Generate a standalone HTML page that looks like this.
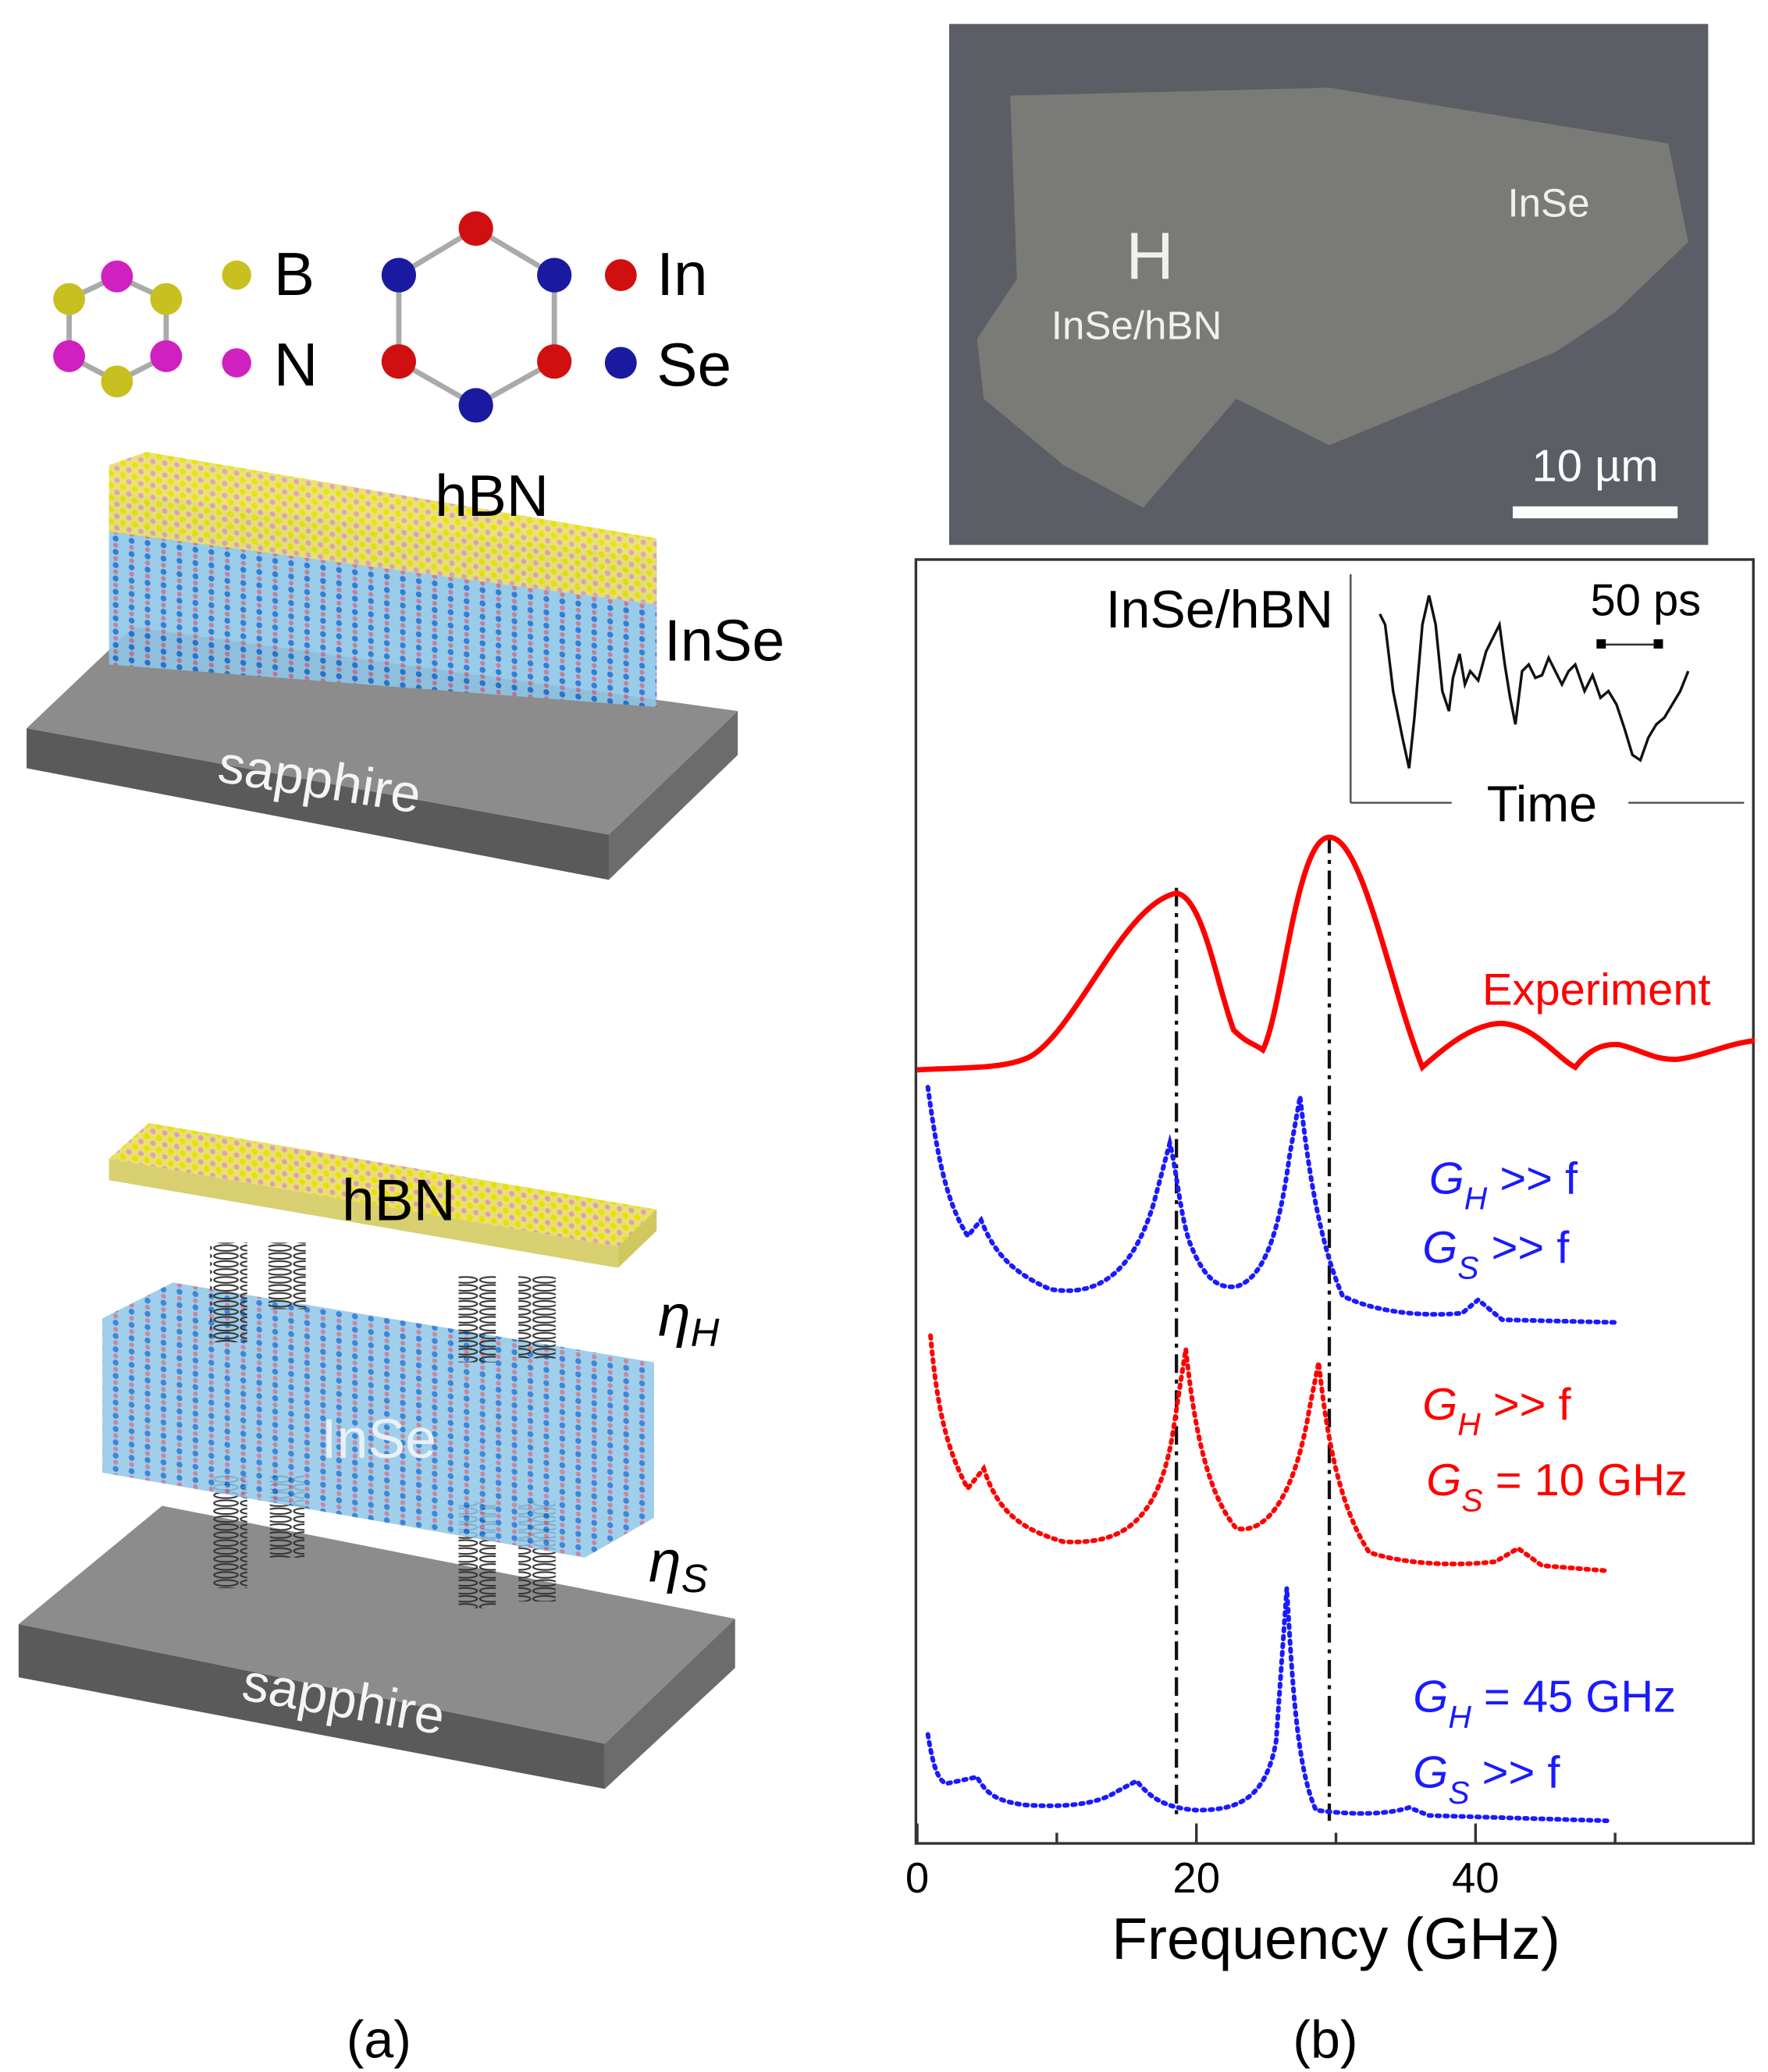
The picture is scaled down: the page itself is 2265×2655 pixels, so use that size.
<!DOCTYPE html>
<html><head><meta charset="utf-8"><style>
html,body{margin:0;padding:0;background:#fff}
svg{display:block}
text{font-family:"Liberation Sans",sans-serif}
</style></head><body>
<svg width="2265" height="2655" viewBox="0 0 1330 1559" xmlns="http://www.w3.org/2000/svg">
<defs>
<pattern id="bn" width="9" height="9" patternUnits="userSpaceOnUse" patternTransform="skewY(8)">
<rect width="9" height="9" fill="#e8e070"/>
<circle cx="2.5" cy="2.5" r="2.2" fill="#e8e000"/><circle cx="7" cy="7" r="2" fill="#e0a0b0"/>
</pattern>
<pattern id="ins" width="12" height="10" patternUnits="userSpaceOnUse" patternTransform="skewY(8)">
<rect width="12" height="10" fill="#8ec6e6"/>
<circle cx="3" cy="3" r="2.2" fill="#1f6fd0"/><circle cx="3" cy="8" r="1.8" fill="#c07090"/>
</pattern>
<pattern id="spr" width="20" height="6" patternUnits="userSpaceOnUse">
<ellipse cx="10" cy="3" rx="9" ry="2.2" fill="none" stroke="#333" stroke-width="1.2"/>
</pattern>
</defs>

<g stroke="#aaa" stroke-width="4" fill="none">
<polygon points="88,208 125,225 125,268 88,287 52,268 52,225"/>
<polygon points="358,172 417,207 417,272 358,305 300,272 300,207"/>
</g>
<g>
<circle cx="88" cy="208" r="12" fill="#d020c0"/><circle cx="52" cy="225" r="12" fill="#c8c020"/><circle cx="125" cy="225" r="12" fill="#c8c020"/>
<circle cx="52" cy="268" r="12" fill="#d020c0"/><circle cx="125" cy="268" r="12" fill="#d020c0"/><circle cx="88" cy="287" r="12" fill="#c8c020"/>
<circle cx="178" cy="207" r="11" fill="#c8c020"/><circle cx="178" cy="273" r="11" fill="#d020c0"/>
<circle cx="358" cy="172" r="13" fill="#d01010"/><circle cx="300" cy="207" r="13" fill="#1a1aa0"/><circle cx="417" cy="207" r="13" fill="#1a1aa0"/>
<circle cx="300" cy="272" r="13" fill="#d01010"/><circle cx="417" cy="272" r="13" fill="#d01010"/><circle cx="358" cy="305" r="13" fill="#1a1aa0"/>
<circle cx="467" cy="207" r="12" fill="#d01010"/><circle cx="467" cy="273" r="12" fill="#1a1aa0"/>
</g>
<text x="206" y="222" font-size="46">B</text><text x="206" y="290" font-size="46">N</text>
<text x="494" y="222" font-size="46">In</text><text x="494" y="290" font-size="46">Se</text>

<!-- upper stack -->
<polygon points="20,548 100,472 555,535 458,628" fill="#8c8c8c"/>
<polygon points="20,548 458,628 458,662 20,578" fill="#5a5a5a"/>
<polygon points="458,628 555,535 555,568 458,662" fill="#6c6c6c"/>
<text x="240" y="600" font-size="40" fill="#f4f4f4" text-anchor="middle" transform="rotate(9 240 590)">sapphire</text>
<polygon points="82,370 494,420 494,532 82,500" fill="url(#ins)" opacity="0.9"/>
<polygon points="82,400 82,350 110,340 494,405 494,455" fill="url(#bn)" opacity="0.95"/>
<text x="370" y="388" font-size="44" text-anchor="middle">hBN</text>
<text x="545" y="497" font-size="44" text-anchor="middle">InSe</text>

<!-- lower stack -->
<polygon points="14,1222 122,1133 553,1218 455,1312" fill="#8c8c8c"/>
<polygon points="14,1222 455,1312 455,1346 14,1262" fill="#5a5a5a"/>
<polygon points="455,1312 553,1218 553,1255 455,1346" fill="#6c6c6c"/>
<text x="258" y="1292" font-size="40" fill="#f4f4f4" text-anchor="middle" transform="rotate(10 258 1282)">sapphire</text>
<g fill="url(#spr)">
<rect x="160" y="1110" width="26" height="85"/><rect x="203" y="1110" width="26" height="62"/>
<rect x="345" y="1130" width="28" height="80"/><rect x="390" y="1130" width="28" height="75"/>
</g>
<polygon points="77,992 130,965 492,1025 492,1142 440,1172 77,1108" fill="url(#ins)" opacity="0.85"/>
<text x="285" y="1097" font-size="42" fill="#e8f0f8" text-anchor="middle">InSe</text>
<g fill="url(#spr)">
<rect x="158" y="935" width="28" height="75"/><rect x="202" y="935" width="28" height="50"/>
<rect x="345" y="960" width="28" height="65"/><rect x="390" y="960" width="28" height="62"/>
</g>
<polygon points="82,872 112,845 494,910 465,938" fill="url(#bn)"/>
<polygon points="82,872 465,938 465,954 82,888" fill="#d8d070"/>
<polygon points="465,938 494,910 494,926 465,954" fill="#cfc860"/>
<text x="300" y="918" font-size="44" text-anchor="middle">hBN</text>
<text x="495" y="1005" font-size="44" font-style="italic" font-family="Liberation Serif,serif">η<tspan font-size="30" dy="8">H</tspan></text>
<text x="488" y="1190" font-size="44" font-style="italic" font-family="Liberation Serif,serif">η<tspan font-size="30" dy="8">S</tspan></text>

<!-- SEM image -->
<rect x="714" y="18" width="571" height="392" fill="#5c5e66"/>
<polygon points="760,72 1000,66 1255,108 1270,182 1215,235 1170,265 1000,335 930,300 860,382 800,350 740,300 735,255 765,210" fill="#7a7b76"/>
<text x="865" y="210" font-size="50" fill="#f0f0f0" text-anchor="middle">H</text>
<text x="855" y="255" font-size="30" fill="#f0f0f0" text-anchor="middle">InSe/hBN</text>
<text x="1165" y="163" font-size="30" fill="#f0f0f0" text-anchor="middle">InSe</text>
<text x="1200" y="362" font-size="34" fill="#fff" text-anchor="middle">10 µm</text>
<rect x="1138" y="381" width="124" height="9" fill="#fff"/>

<rect x="689" y="421" width="630" height="966" fill="none" stroke="#333" stroke-width="2"/>
<g stroke="#333" stroke-width="2">
<line x1="690" y1="1387" x2="690" y2="1372"/><line x1="900" y1="1387" x2="900" y2="1372"/><line x1="1110" y1="1387" x2="1110" y2="1372"/>
<line x1="795" y1="1387" x2="795" y2="1379"/><line x1="1005" y1="1387" x2="1005" y2="1379"/><line x1="1215" y1="1387" x2="1215" y2="1379"/>
</g>
<text x="690" y="1424" font-size="32" text-anchor="middle">0</text>
<text x="900" y="1424" font-size="32" text-anchor="middle">20</text>
<text x="1110" y="1424" font-size="32" text-anchor="middle">40</text>
<text x="1005" y="1474" font-size="44" text-anchor="middle">Frequency (GHz)</text>
<text x="285" y="1548" font-size="40" text-anchor="middle" font-family="Liberation Serif,serif">(a)</text>
<text x="997" y="1548" font-size="40" text-anchor="middle" font-family="Liberation Serif,serif">(b)</text>

<text x="1003" y="472" font-size="40" text-anchor="end">InSe/hBN</text>
<g stroke="#555" stroke-width="1.5" fill="none">
<line x1="1016" y1="432" x2="1016" y2="604"/><line x1="1016" y1="604" x2="1092" y2="604"/><line x1="1225" y1="604" x2="1312" y2="604"/>
</g>
<text x="1160" y="618" font-size="38" text-anchor="middle">Time</text>
<text x="1238" y="463" font-size="34" text-anchor="middle">50 ps</text>
<line x1="1205" y1="485" x2="1248" y2="485" stroke="#333" stroke-width="1.5"/>
<rect x="1201" y="481" width="7" height="7"/><rect x="1244" y="481" width="7" height="7"/>
<polyline fill="none" stroke="#111" stroke-width="2" points="1038,462 1042,470 1048,520 1055,555 1060,578 1064,540 1070,470 1075,448 1080,470 1085,520 1090,535 1093,510 1098,492 1102,515 1106,505 1112,512 1118,490 1123,480 1128,470 1132,500 1136,525 1140,545 1145,505 1150,500 1155,510 1160,508 1165,495 1170,505 1175,515 1180,505 1185,500 1192,520 1198,508 1204,525 1210,520 1216,530 1222,548 1228,568 1234,572 1240,555 1246,545 1252,540 1258,530 1264,520 1270,505"/>

<g stroke="#111" stroke-width="2.5" stroke-dasharray="14,5,3,5" fill="none">
<line x1="885" y1="668" x2="885" y2="1370"/><line x1="1000" y1="628" x2="1000" y2="1370"/>
</g>

<path fill="none" stroke="#f00" stroke-width="4" d="M690,805 C720,803 755,805 775,795 C810,775 845,680 885,672 C905,675 915,740 928,775 C938,785 943,785 950,790 C965,760 975,630 1000,630 C1025,630 1045,740 1070,803 C1090,785 1110,770 1130,770 C1155,772 1170,795 1185,803 C1195,790 1205,785 1218,786 C1235,790 1245,798 1262,797 C1280,795 1300,785 1320,783"/>
<text x="1115" y="756" font-size="34" fill="#f00">Experiment</text>

<g fill="none" stroke-width="3.5" stroke-dasharray="2,4" stroke-linecap="round">
<path stroke="#1a1aff" d="M698,818 C705,870 712,905 728,930 L738,918 C745,935 755,955 790,970 C820,975 850,965 868,905 L880,860 C885,880 888,915 895,935 C905,960 915,970 930,968 C950,962 962,930 970,870 L978,825 C982,860 990,930 1010,975 C1040,990 1080,990 1100,988 L1112,978 L1130,993 L1215,995"/>
<path stroke="#f00" d="M700,1005 C705,1060 712,1090 728,1120 L740,1105 C750,1135 765,1150 800,1160 C840,1162 870,1150 882,1080 L892,1015 C897,1060 905,1120 930,1150 C955,1155 975,1120 985,1060 L992,1025 C997,1070 1005,1130 1030,1168 C1060,1178 1100,1178 1125,1175 L1142,1165 L1160,1178 L1210,1182"/>
<path stroke="#1a1aff" d="M698,1305 C702,1330 706,1340 712,1342 L735,1337 C742,1350 750,1355 770,1358 C800,1360 825,1358 840,1348 L855,1340 C865,1352 875,1360 900,1362 C930,1362 952,1355 960,1310 L968,1195 C972,1260 975,1330 990,1362 C1020,1366 1045,1365 1060,1360 L1075,1366 L1210,1370"/>
</g>

<g font-size="34" font-style="italic">
<text x="1075" y="898" fill="#1a1aff">G<tspan font-size="24" dy="12">H</tspan><tspan font-style="normal" dy="-12"> &gt;&gt; f</tspan></text>
<text x="1070" y="950" fill="#1a1aff">G<tspan font-size="24" dy="12">S</tspan><tspan font-style="normal" dy="-12">  &gt;&gt; f</tspan></text>
<text x="1070" y="1068" fill="#f00">G<tspan font-size="24" dy="12">H</tspan><tspan font-style="normal" dy="-12"> &gt;&gt; f</tspan></text>
<text x="1073" y="1125" fill="#f00">G<tspan font-size="24" dy="12">S</tspan><tspan font-style="normal" dy="-12">  = 10 GHz</tspan></text>
<text x="1063" y="1288" fill="#1a1aff">G<tspan font-size="24" dy="12">H</tspan><tspan font-style="normal" dy="-12"> = 45 GHz</tspan></text>
<text x="1063" y="1345" fill="#1a1aff">G<tspan font-size="24" dy="12">S</tspan><tspan font-style="normal" dy="-12">  &gt;&gt; f</tspan></text>
</g>
</svg>
</body></html>
